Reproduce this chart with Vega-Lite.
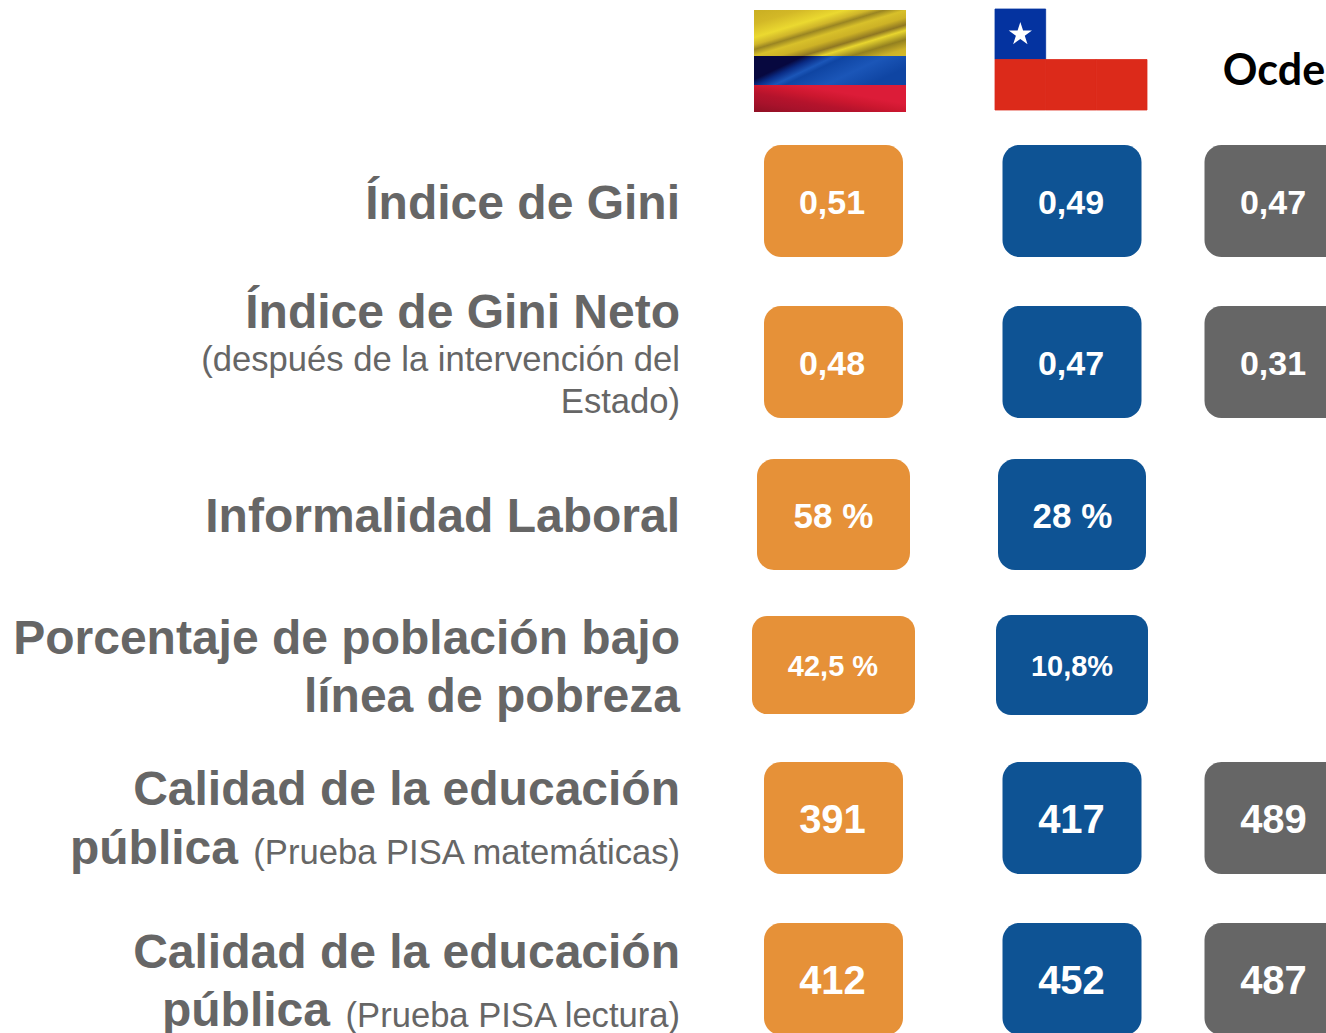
{"$schema":"https://vega.github.io/schema/vega-lite/v6.json","width":1326,"height":1033,"padding":0,"autosize":{"type":"none"},"background":"white","view":{"stroke":null},
"datasets":{
"cuadros":[
{"fila":1,"col":1,"pais":"Colombia","valor":"0,51"},{"fila":1,"col":2,"pais":"Chile","valor":"0,49"},{"fila":1,"col":3,"pais":"Ocde","valor":"0,47"},
{"fila":2,"col":1,"pais":"Colombia","valor":"0,48"},{"fila":2,"col":2,"pais":"Chile","valor":"0,47"},{"fila":2,"col":3,"pais":"Ocde","valor":"0,31"},
{"fila":3,"col":1,"pais":"Colombia","valor":"58 %"},{"fila":3,"col":2,"pais":"Chile","valor":"28 %"},
{"fila":4,"col":1,"pais":"Colombia","valor":"42,5 %"},{"fila":4,"col":2,"pais":"Chile","valor":"10,8%"},
{"fila":5,"col":1,"pais":"Colombia","valor":"391"},{"fila":5,"col":2,"pais":"Chile","valor":"417"},{"fila":5,"col":3,"pais":"Ocde","valor":"489"},
{"fila":6,"col":1,"pais":"Colombia","valor":"412"},{"fila":6,"col":2,"pais":"Chile","valor":"452"},{"fila":6,"col":3,"pais":"Ocde","valor":"487"}],
"etiquetas":[
{"fila":1,"col":0,"tipo":"titulo","texto":"Índice de Gini"},
{"fila":2,"col":0,"tipo":"neto","texto":"Índice de Gini Neto"},
{"fila":2,"col":0,"tipo":"sub","texto":"(después de la intervención del\nEstado)"},
{"fila":3,"col":0,"tipo":"titulo","texto":"Informalidad Laboral"},
{"fila":4,"col":0,"tipo":"doble","texto":"Porcentaje de población bajo\nlínea de pobreza"},
{"fila":5,"col":0,"tipo":"cabeza","texto":"Calidad de la educación"},
{"fila":5,"col":0,"tipo":"publicaM","texto":"pública"},
{"fila":5,"col":0,"tipo":"nota","texto":"(Prueba PISA matemáticas)"},
{"fila":6,"col":0,"tipo":"cabeza","texto":"Calidad de la educación"},
{"fila":6,"col":0,"tipo":"publicaL","texto":"pública"},
{"fila":6,"col":0,"tipo":"nota","texto":"(Prueba PISA lectura)"}],
"encabezado":[{"fila":0,"col":3,"texto":"Ocde"}],
"chile":[
{"cx":"b","cy":"s","tono":"blanco"},{"cx":"c","cy":"s","tono":"blanco"},{"cx":"a","cy":"s","tono":"azul"},
{"cx":"a","cy":"i","tono":"rojo"},{"cx":"b","cy":"i","tono":"rojo"},{"cx":"c","cy":"i","tono":"rojo"}],
"estrella":[{"cx":"a","cy":"s"}],
"colombia":[{"s":"amarillo"},{"s":"azul"},{"s":"rojo"}]
},
"resolve":{"scale":{"x":"independent","y":"independent","color":"independent","stroke":"independent"}},
"layer":[
{"data":{"name":"colombia"},"transform":[{"filter":"datum.s==='amarillo'"}],"mark":{"type":"rect","color":{"gradient":"linear","x1":0,"y1":0,"x2":1,"y2":1,"stops":[{"offset":0,"color":"#C9AE22"},{"offset":0.15,"color":"#D3B827"},{"offset":0.3,"color":"#EBD930"},{"offset":0.38,"color":"#CFB52A"},{"offset":0.43,"color":"#9A8522"},{"offset":0.5,"color":"#D8C02A"},{"offset":0.58,"color":"#CDB226"},{"offset":0.66,"color":"#8F7722"},{"offset":0.72,"color":"#E8D52E"},{"offset":0.82,"color":"#93801F"},{"offset":0.92,"color":"#CDB228"},{"offset":1,"color":"#D6BC28"}]}},"encoding":{
"x":{"field":"s","type":"nominal","axis":null,"scale":{"type":"band","domain":["amarillo"],"range":[754,906],"padding":0}},
"y":{"field":"s","type":"nominal","axis":null,"scale":{"type":"band","domain":["amarillo"],"range":[10,56],"padding":0}}}},
{"data":{"name":"colombia"},"transform":[{"filter":"datum.s==='azul'"}],"mark":{"type":"rect","color":{"gradient":"linear","x1":0,"y1":0,"x2":1,"y2":0.4,"stops":[{"offset":0,"color":"#07083F"},{"offset":0.28,"color":"#07083F"},{"offset":0.36,"color":"#0A2C85"},{"offset":0.46,"color":"#1B56B8"},{"offset":0.52,"color":"#0F45A3"},{"offset":0.75,"color":"#1B56B8"},{"offset":1,"color":"#0F45A3"}]}},"encoding":{
"x":{"field":"s","type":"nominal","axis":null,"scale":{"type":"band","domain":["azul"],"range":[754,906],"padding":0}},
"y":{"field":"s","type":"nominal","axis":null,"scale":{"type":"band","domain":["azul"],"range":[56,85],"padding":0}}}},
{"data":{"name":"colombia"},"transform":[{"filter":"datum.s==='rojo'"}],"mark":{"type":"rect","color":{"gradient":"linear","x1":0,"y1":1,"x2":1,"y2":0,"stops":[{"offset":0,"color":"#8F1024"},{"offset":0.2,"color":"#A8122B"},{"offset":0.35,"color":"#B5132C"},{"offset":0.5,"color":"#CC172F"},{"offset":0.65,"color":"#DC1C38"},{"offset":1,"color":"#DC1C38"}]}},"encoding":{
"x":{"field":"s","type":"nominal","axis":null,"scale":{"type":"band","domain":["rojo"],"range":[754,906],"padding":0}},
"y":{"field":"s","type":"nominal","axis":null,"scale":{"type":"band","domain":["rojo"],"range":[85,112],"padding":0}}}},
{"data":{"name":"chile"},"mark":{"type":"rect","strokeWidth":0.8},"encoding":{
"x":{"field":"cx","type":"nominal","axis":null,"scale":{"type":"band","domain":["a","b","c"],"range":[995,1147],"padding":0}},
"y":{"field":"cy","type":"nominal","axis":null,"scale":{"type":"band","domain":["s","i"],"range":[9,110],"padding":0}},
"color":{"field":"tono","type":"nominal","legend":null,"scale":{"domain":["azul","blanco","rojo"],"range":["#0433A0","#FFFFFF","#DC2A1A"]}},
"stroke":{"field":"tono","type":"nominal","legend":null,"scale":{"domain":["azul","blanco","rojo"],"range":["#0433A0","#FFFFFF","#DC2A1A"]}}}},
{"data":{"name":"estrella"},"mark":{"type":"point","filled":true,"color":"white","opacity":1,"size":600,"shape":"M0,-1 L0.225,-0.31 L0.95,-0.31 L0.363,0.118 L0.588,0.809 L0,0.382 L-0.588,0.809 L-0.363,0.118 L-0.95,-0.31 L-0.225,-0.31Z"},"encoding":{
"x":{"field":"cx","type":"nominal","axis":null,"scale":{"type":"band","domain":["a","b","c"],"range":[995,1147],"padding":0}},
"y":{"field":"cy","type":"nominal","axis":null,"scale":{"type":"band","domain":["s","i"],"range":[9,110],"padding":0}}}},

{"data":{"name":"cuadros"},"transform":[{"filter":"datum.fila!==3&&datum.fila!==4"}],"mark":{"type":"rect","width":139,"height":112,"cornerRadius":17},"encoding":{
"x":{"field":"col","type":"quantitative","axis":null,"scale":{"domain":[0,1,2,3],"range":[680,833.5,1072,1274]}},
"y":{"field":"fila","type":"quantitative","axis":null,"scale":{"domain":[0,1,2,3,4,5,6],"range":[70,201,362,514.5,665,818,979]}},
"color":{"field":"pais","type":"nominal","legend":null,"scale":{"domain":["Colombia","Chile","Ocde"],"range":["#E69138","#0E5394","#666666"]}}}},
{"data":{"name":"cuadros"},"transform":[{"filter":"datum.fila===3&&datum.col===1"}],"mark":{"type":"rect","width":153,"height":111,"cornerRadius":17},"encoding":{
"x":{"field":"col","type":"quantitative","axis":null,"scale":{"domain":[0,1,2,3],"range":[680,833.5,1072,1274]}},
"y":{"field":"fila","type":"quantitative","axis":null,"scale":{"domain":[0,1,2,3,4,5,6],"range":[70,201,362,514.5,665,818,979]}},
"color":{"field":"pais","type":"nominal","legend":null,"scale":{"domain":["Colombia","Chile","Ocde"],"range":["#E69138","#0E5394","#666666"]}}}},
{"data":{"name":"cuadros"},"transform":[{"filter":"datum.fila===3&&datum.col===2"}],"mark":{"type":"rect","width":148,"height":111,"cornerRadius":17},"encoding":{
"x":{"field":"col","type":"quantitative","axis":null,"scale":{"domain":[0,1,2,3],"range":[680,833.5,1072,1274]}},
"y":{"field":"fila","type":"quantitative","axis":null,"scale":{"domain":[0,1,2,3,4,5,6],"range":[70,201,362,514.5,665,818,979]}},
"color":{"field":"pais","type":"nominal","legend":null,"scale":{"domain":["Colombia","Chile","Ocde"],"range":["#E69138","#0E5394","#666666"]}}}},
{"data":{"name":"cuadros"},"transform":[{"filter":"datum.fila===4&&datum.col===1"}],"mark":{"type":"rect","width":163,"height":98,"cornerRadius":15},"encoding":{
"x":{"field":"col","type":"quantitative","axis":null,"scale":{"domain":[0,1,2,3],"range":[680,833.5,1072,1274]}},
"y":{"field":"fila","type":"quantitative","axis":null,"scale":{"domain":[0,1,2,3,4,5,6],"range":[70,201,362,514.5,665,818,979]}},
"color":{"field":"pais","type":"nominal","legend":null,"scale":{"domain":["Colombia","Chile","Ocde"],"range":["#E69138","#0E5394","#666666"]}}}},
{"data":{"name":"cuadros"},"transform":[{"filter":"datum.fila===4&&datum.col===2"}],"mark":{"type":"rect","width":152,"height":100,"cornerRadius":15},"encoding":{
"x":{"field":"col","type":"quantitative","axis":null,"scale":{"domain":[0,1,2,3],"range":[680,833.5,1072,1274]}},
"y":{"field":"fila","type":"quantitative","axis":null,"scale":{"domain":[0,1,2,3,4,5,6],"range":[70,201,362,514.5,665,818,979]}},
"color":{"field":"pais","type":"nominal","legend":null,"scale":{"domain":["Colombia","Chile","Ocde"],"range":["#E69138","#0E5394","#666666"]}}}},

{"data":{"name":"cuadros"},"transform":[{"filter":"datum.fila<=2"}],"mark":{"type":"text","font":"Liberation Sans","fontWeight":"bold","fontSize":34,"color":"white","baseline":"middle","align":"center","dx":-1,"dy":3},"encoding":{
"x":{"field":"col","type":"quantitative","axis":null,"scale":{"domain":[0,1,2,3],"range":[680,833,1072,1274]}},
"y":{"field":"fila","type":"quantitative","axis":null,"scale":{"domain":[0,1,2,3,4,5,6],"range":[70,201,362,514.5,665,818,979]}},
"text":{"field":"valor"}}},
{"data":{"name":"cuadros"},"transform":[{"filter":"datum.fila===3"}],"mark":{"type":"text","font":"Liberation Sans","fontWeight":"bold","fontSize":35,"color":"white","baseline":"middle","align":"center","dy":2,"dx":0.5},"encoding":{
"x":{"field":"col","type":"quantitative","axis":null,"scale":{"domain":[0,1,2,3],"range":[680,833,1072,1274]}},
"y":{"field":"fila","type":"quantitative","axis":null,"scale":{"domain":[0,1,2,3,4,5,6],"range":[70,201,362,514.5,665,818,979]}},
"text":{"field":"valor"}}},
{"data":{"name":"cuadros"},"transform":[{"filter":"datum.fila===4"}],"mark":{"type":"text","font":"Liberation Sans","fontWeight":"bold","fontSize":29,"color":"white","baseline":"middle","align":"center","dy":2},"encoding":{
"x":{"field":"col","type":"quantitative","axis":null,"scale":{"domain":[0,1,2,3],"range":[680,833,1072,1274]}},
"y":{"field":"fila","type":"quantitative","axis":null,"scale":{"domain":[0,1,2,3,4,5,6],"range":[70,201,362,514.5,665,818,979]}},
"text":{"field":"valor"}}},
{"data":{"name":"cuadros"},"transform":[{"filter":"datum.fila>=5"}],"mark":{"type":"text","font":"Liberation Sans","fontWeight":"bold","fontSize":40,"color":"white","baseline":"middle","align":"center","dx":-0.5,"dy":3},"encoding":{
"x":{"field":"col","type":"quantitative","axis":null,"scale":{"domain":[0,1,2,3],"range":[680,833,1072,1274]}},
"y":{"field":"fila","type":"quantitative","axis":null,"scale":{"domain":[0,1,2,3,4,5,6],"range":[70,201,362,514.5,665,818,979]}},
"text":{"field":"valor"}}},

{"data":{"name":"encabezado"},"mark":{"type":"text","font":"Lato","fontWeight":"bold","fontSize":43,"color":"#000000","baseline":"middle","align":"center","dy":2},"encoding":{
"x":{"field":"col","type":"quantitative","axis":null,"scale":{"domain":[0,1,2,3],"range":[680,833,1072,1274]}},
"y":{"field":"fila","type":"quantitative","axis":null,"scale":{"domain":[0,1,2,3,4,5,6],"range":[70,201,362,514.5,665,818,979]}},
"text":{"field":"texto"}}},

{"data":{"name":"etiquetas"},"transform":[{"filter":"datum.tipo==='titulo'"}],"mark":{"type":"text","font":"Liberation Sans","fontWeight":"bold","fontSize":48,"color":"#666666","baseline":"middle","align":"right","dy":3.5},"encoding":{
"x":{"field":"col","type":"quantitative","axis":null,"scale":{"domain":[0,1,2,3],"range":[680,833,1072,1274]}},
"y":{"field":"fila","type":"quantitative","axis":null,"scale":{"domain":[0,1,2,3,4,5,6],"range":[70,201,362,514.5,665,818,981]}},
"text":{"field":"texto"}}},
{"data":{"name":"etiquetas"},"transform":[{"filter":"datum.tipo==='neto'"}],"mark":{"type":"text","font":"Liberation Sans","fontWeight":"bold","fontSize":48,"color":"#666666","baseline":"middle","align":"right","dy":-48},"encoding":{
"x":{"field":"col","type":"quantitative","axis":null,"scale":{"domain":[0,1,2,3],"range":[680,833,1072,1274]}},
"y":{"field":"fila","type":"quantitative","axis":null,"scale":{"domain":[0,1,2,3,4,5,6],"range":[70,201,362,514.5,665,818,981]}},
"text":{"field":"texto"}}},
{"data":{"name":"etiquetas"},"transform":[{"filter":"datum.tipo==='sub'"}],"mark":{"type":"text","font":"Liberation Sans","fontSize":34.6,"color":"#666666","baseline":"middle","align":"right","lineBreak":"\n","lineHeight":42,"dy":-1},"encoding":{
"x":{"field":"col","type":"quantitative","axis":null,"scale":{"domain":[0,1,2,3],"range":[680,833,1072,1274]}},
"y":{"field":"fila","type":"quantitative","axis":null,"scale":{"domain":[0,1,2,3,4,5,6],"range":[70,201,362,514.5,665,818,981]}},
"text":{"field":"texto"}}},
{"data":{"name":"etiquetas"},"transform":[{"filter":"datum.tipo==='doble'"}],"mark":{"type":"text","font":"Liberation Sans","fontWeight":"bold","fontSize":48,"color":"#666666","baseline":"middle","align":"right","lineBreak":"\n","lineHeight":58,"dy":-25},"encoding":{
"x":{"field":"col","type":"quantitative","axis":null,"scale":{"domain":[0,1,2,3],"range":[680,833,1072,1274]}},
"y":{"field":"fila","type":"quantitative","axis":null,"scale":{"domain":[0,1,2,3,4,5,6],"range":[70,201,362,514.5,665,818,981]}},
"text":{"field":"texto"}}},
{"data":{"name":"etiquetas"},"transform":[{"filter":"datum.tipo==='cabeza'"}],"mark":{"type":"text","font":"Liberation Sans","fontWeight":"bold","fontSize":48,"color":"#666666","baseline":"middle","align":"right","dy":-27},"encoding":{
"x":{"field":"col","type":"quantitative","axis":null,"scale":{"domain":[0,1,2,3],"range":[680,833,1072,1274]}},
"y":{"field":"fila","type":"quantitative","axis":null,"scale":{"domain":[0,1,2,3,4,5,6],"range":[70,201,362,514.5,665,818,981]}},
"text":{"field":"texto"}}},
{"data":{"name":"etiquetas"},"transform":[{"filter":"datum.tipo==='publicaM'"}],"mark":{"type":"text","font":"Liberation Sans","fontWeight":"bold","fontSize":48,"color":"#666666","baseline":"middle","align":"right","dy":32,"dx":-442},"encoding":{
"x":{"field":"col","type":"quantitative","axis":null,"scale":{"domain":[0,1,2,3],"range":[680,833,1072,1274]}},
"y":{"field":"fila","type":"quantitative","axis":null,"scale":{"domain":[0,1,2,3,4,5,6],"range":[70,201,362,514.5,665,818,981]}},
"text":{"field":"texto"}}},
{"data":{"name":"etiquetas"},"transform":[{"filter":"datum.tipo==='publicaL'"}],"mark":{"type":"text","font":"Liberation Sans","fontWeight":"bold","fontSize":48,"color":"#666666","baseline":"middle","align":"right","dy":31,"dx":-350},"encoding":{
"x":{"field":"col","type":"quantitative","axis":null,"scale":{"domain":[0,1,2,3],"range":[680,833,1072,1274]}},
"y":{"field":"fila","type":"quantitative","axis":null,"scale":{"domain":[0,1,2,3,4,5,6],"range":[70,201,362,514.5,665,818,981]}},
"text":{"field":"texto"}}},
{"data":{"name":"etiquetas"},"transform":[{"filter":"datum.tipo==='nota'"}],"mark":{"type":"text","font":"Liberation Sans","fontSize":34.6,"color":"#666666","baseline":"middle","align":"right","dy":35.5},"encoding":{
"x":{"field":"col","type":"quantitative","axis":null,"scale":{"domain":[0,1,2,3],"range":[680,833,1072,1274]}},
"y":{"field":"fila","type":"quantitative","axis":null,"scale":{"domain":[0,1,2,3,4,5,6],"range":[70,201,362,514.5,665,818,981]}},
"text":{"field":"texto"}}}
]}
